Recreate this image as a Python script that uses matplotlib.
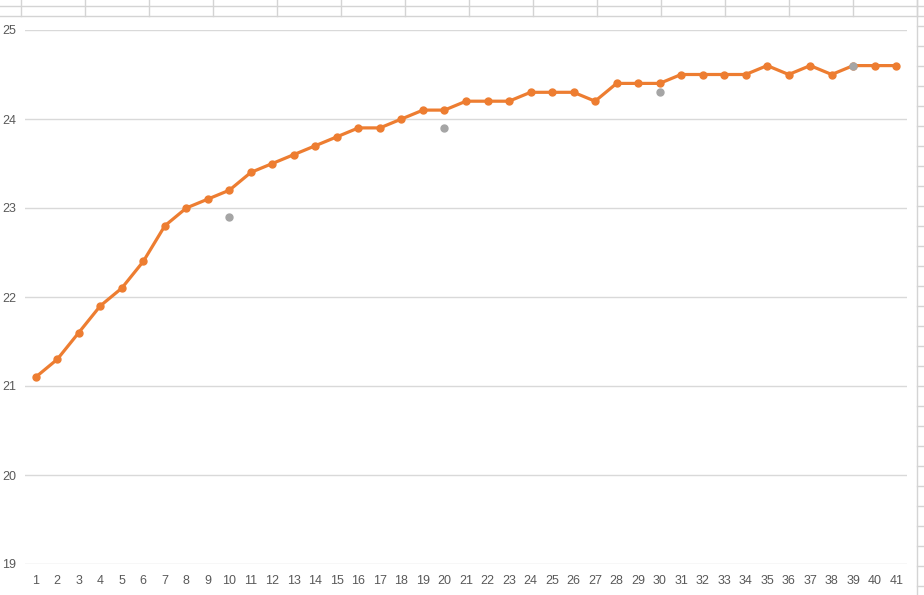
import numpy as np
import matplotlib.pyplot as plt
from matplotlib.lines import Line2D

# datos
x_vals = np.arange(1, 42)
serie_1 = [21.1, 21.3, 21.6, 21.9, 22.1, 22.4, 22.8, 23.0, 23.1, 23.2,
           23.4, 23.5, 23.6, 23.7, 23.8, 23.9, 23.9, 24.0, 24.1, 24.1,
           24.2, 24.2, 24.2, 24.3, 24.3, 24.3, 24.2, 24.4, 24.4, 24.4,
           24.5, 24.5, 24.5, 24.5, 24.6, 24.5, 24.6, 24.5, 24.6, 24.6,
           24.6]
serie_2_x = [10, 20, 30, 39]
serie_2 = [22.9, 23.9, 24.3, 24.6]
y_ticks = [19, 20, 21, 22, 23, 24, 25]

W, H = 924, 595
fig = plt.figure(figsize=(W / 100, H / 100), dpi=100)
plt.rcParams['font.family'] = ['Liberation Sans', 'DejaVu Sans']

# lineas de la hoja de calculo (celdas arriba y a la derecha)
grid_col = '#d4d4d4'
for yy in [6, 16]:
    fig.add_artist(Line2D([0, 1], [1 - yy / H, 1 - yy / H], color=grid_col, lw=1, transform=fig.transFigure))
for xx in range(21, 918, 64):
    fig.add_artist(Line2D([xx / W, xx / W], [1, 1 - 16 / H], color=grid_col, lw=1, transform=fig.transFigure))
fig.add_artist(Line2D([917 / W, 917 / W], [1, 0], color=grid_col, lw=1, transform=fig.transFigure))
for yy in range(26, H, 20):
    fig.add_artist(Line2D([917 / W, 1], [1 - yy / H, 1 - yy / H], color=grid_col, lw=1, transform=fig.transFigure))

ax = fig.add_axes([25 / W, 1 - 564 / H, 882 / W, (564 - 30) / H])
ax.plot(x_vals, serie_1, '-o', color='#ED7D31', lw=2.3, markersize=5, zorder=3)
ax.plot(serie_2_x, serie_2, 'o', color='#A5A5A5', markersize=5, zorder=4)

ax.set_xlim(0.5, 41.5)
ax.set_ylim(19, 25)
ax.set_xticks(x_vals)
ax.set_yticks(y_ticks)
ax.grid(True, axis='y', color='#d9d9d9', lw=1)
ax.set_axisbelow(True)
for s in ax.spines.values():
    s.set_visible(False)
ax.tick_params(length=0, labelsize=9, labelcolor='#595959')
ax.tick_params(axis='y', pad=6.5)
ax.tick_params(axis='x', pad=8)

fig.savefig('out.png', dpi=100)
